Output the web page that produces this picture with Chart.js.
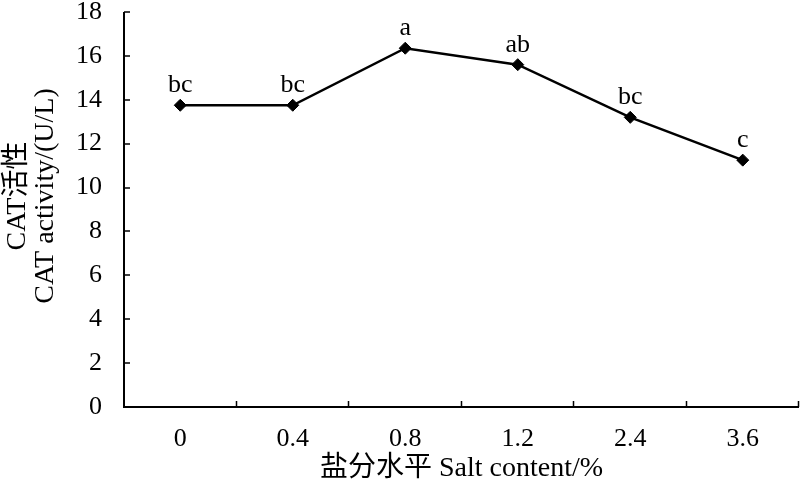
<!DOCTYPE html>
<html><head><meta charset="utf-8">
<script src="https://cdn.jsdelivr.net/npm/chart.js@4/dist/chart.umd.min.js"></script>
<style>html,body{margin:0;padding:0;background:#fff;overflow:hidden}#w{width:800px;height:479px}</style>
</head><body><div id="w"><canvas id="c"></canvas></div>
<script>
const categories = ['0','0.4','0.8','1.2','2.4','3.6'];
const catValues = [13.75, 13.75, 16.35, 15.6, 13.2, 11.25];
const sigLetters = ['bc','bc','a','ab','bc','c'];
const yTicks = [0,2,4,6,8,10,12,14,16,18];
const yTitleLines = ['CAT活性', 'CAT activity/(U/L)'];
const xTitle = '盐分水平 Salt content/%';

const FONT = "'Liberation Serif','Times New Roman','Noto Sans CJK SC',serif";

const axesPlugin = {
  id: 'axesPlugin',
  afterDraw(chart) {
    const {ctx, chartArea: a, scales: {x, y}} = chart;
    ctx.save();
    ctx.strokeStyle = '#000';
    ctx.lineWidth = 2;
    ctx.beginPath();
    ctx.moveTo(a.left, a.top); ctx.lineTo(a.left, a.bottom); ctx.lineTo(a.right, a.bottom);
    ctx.stroke();
    ctx.lineWidth = 1.5;
    ctx.beginPath();
    yTicks.forEach(v => { const py = Math.round(y.getPixelForValue(v)); ctx.moveTo(a.left, py); ctx.lineTo(a.left + 6, py); });
    const half = (x.getPixelForValue(1) - x.getPixelForValue(0)) / 2;
    for (let i = 0; i < categories.length; i++) {
      const px = Math.min(Math.round(x.getPixelForValue(i) + half), a.right) - 0.5;
      ctx.moveTo(px, a.bottom); ctx.lineTo(px, a.bottom - 6);
    }
    ctx.stroke();
    ctx.fillStyle = '#000';
    ctx.font = '26px ' + FONT;
    ctx.textAlign = 'center';
    ctx.textBaseline = 'alphabetic';
    const meta = chart.getDatasetMeta(0);
    meta.data.forEach((pt, i) => { ctx.fillText(sigLetters[i], pt.x, pt.y - 13); });
    const cxs = [18, 46];
    const cy = 196;
    ctx.font = '28px ' + FONT;
    ctx.textAlign = 'center';
    ctx.textBaseline = 'middle';
    yTitleLines.forEach((t, i) => {
      ctx.save();
      ctx.translate(cxs[i], cy);
      ctx.rotate(-Math.PI / 2);
      ctx.fillText(t, 0, 0);
      ctx.restore();
    });
    ctx.restore();
  }
};

new Chart(document.getElementById('c'), {
  type: 'line',
  data: { labels: categories, datasets: [{
    data: catValues, borderColor: '#000', borderWidth: 2.5, backgroundColor: '#000',
    pointStyle: 'rectRot', pointRadius: 6, pointHoverRadius: 6, pointBorderWidth: 1, tension: 0, fill: false
  }]},
  options: {
    responsive: true, maintainAspectRatio: false, animation: false,
    layout: { autoPadding: false, padding: { top: 12, right: 1, left: 0, bottom: 0 } },
    plugins: { legend: { display: false }, tooltip: { enabled: false } },
    scales: {
      x: {
        offset: true,
        grid: { display: false }, border: { display: false },
        ticks: { color: '#000', font: { family: FONT, size: 26 }, padding: 9, maxRotation: 0, autoSkip: false },
        title: { display: true, text: xTitle, color: '#000', font: { family: FONT, size: 28, lineHeight: 1.0 }, padding: { top: 0, bottom: -4 } },
        afterFit(s) { s.height = 72; s.paddingLeft = 0; s.paddingRight = 0; }
      },
      y: {
        min: 0, max: 18,
        afterBuildTicks(s) { s.ticks = yTicks.map(v => ({ value: v })); },
        grid: { display: false }, border: { display: false },
        ticks: { color: '#000', font: { family: FONT, size: 26 }, padding: 14 },
        title: { display: false },
        afterFit(s) { s.width = 124; s.paddingTop = 0; s.paddingBottom = 0; }
      }
    }
  },
  plugins: [axesPlugin]
});
</script></body></html>
